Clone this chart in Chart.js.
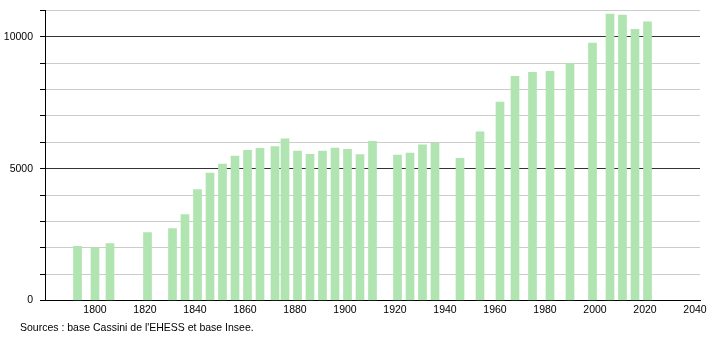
<!DOCTYPE html>
<html>
<head>
<meta charset="utf-8">
<script src="https://cdn.jsdelivr.net/npm/chart.js@4/dist/chart.umd.min.js"></script>
<style>
  html, body { margin: 0; padding: 0; background: #fff; }
  #wrap { position: relative; width: 710px; height: 340px; }
  #source {
    position: absolute; left: 20px; top: 321px;
    font: 10.5px "Liberation Sans", Arial, sans-serif; color: #000;
  }
</style>
</head>
<body>
<div id="wrap">
  <canvas id="popChart" width="710" height="340"></canvas>
  <div id="source">Sources : base Cassini de l'EHESS et base Insee.</div>
</div>
<script>
// census years and population
const years = [1793, 1800, 1806, 1821, 1831, 1836, 1841, 1846, 1851, 1856,
  1861, 1866, 1872, 1876, 1881, 1886, 1891, 1896, 1901, 1906, 1911,
  1921, 1926, 1931, 1936, 1946, 1954, 1962, 1968, 1975, 1982, 1990,
  1999, 2006, 2011, 2016, 2021];
const population = [2050, 2000, 2160, 2580, 2730, 3255, 4210, 4830, 5175, 5480,
  5700, 5775, 5840, 6130, 5670, 5545, 5670, 5785, 5735, 5535, 6040,
  5520, 5595, 5900, 5965, 5390, 6400, 7530, 8500, 8650, 8690, 9000,
  9760, 10860, 10825, 10290, 10570];
const xTicks = [1800, 1820, 1840, 1860, 1880, 1900, 1920, 1940, 1960, 1980, 2000, 2020, 2040];
const yTicks = [0, 1000, 2000, 3000, 4000, 5000, 6000, 7000, 8000, 9000, 10000, 11000];
const yLabels = [0, 5000, 10000];

const font = { family: '"Liberation Sans", Arial, sans-serif', size: 10.5 };

new Chart(document.getElementById('popChart'), {
  type: 'bar',
  data: {
    datasets: [{
      data: years.map((y, i) => ({ x: y, y: population[i] })),
      backgroundColor: '#b0e4b0',
      barThickness: 8
    }]
  },
  options: {
    responsive: false,
    animation: false,
    layout: { padding: { top: 10.5, right: 10, left: 0, bottom: 0 } },
    plugins: { legend: { display: false }, tooltip: { enabled: false } },
    scales: {
      x: {
        type: 'linear',
        offset: false,
        min: 1780,
        max: 2042,
        afterBuildTicks: s => { s.ticks = xTicks.map(v => ({ value: v })); },
        afterFit: s => { s.height = 39.5; },
        grid: { display: false, drawTicks: false, offset: false },
        border: { color: '#000', width: 1 },
        ticks: { autoSkip: false, maxRotation: 0, padding: 3, color: '#000', font,
          callback: v => String(v) }
      },
      y: {
        min: 0,
        max: 11000,
        afterBuildTicks: s => { s.ticks = yTicks.map(v => ({ value: v })); },
        afterFit: s => { s.width = 45; s.paddingTop = 0; s.paddingBottom = 0; },
        grid: {
          color: c => (c.tick && c.tick.value % 5000 === 0 && c.tick.value > 0) ? '#333' : '#ccc',
          tickColor: '#000',
          tickLength: 5
        },
        border: { color: '#000', width: 1 },
        ticks: { padding: 7, color: '#000', font,
          callback: v => yLabels.includes(v) ? String(v) : '' }
      }
    }
  }
});
</script>
</body>
</html>
